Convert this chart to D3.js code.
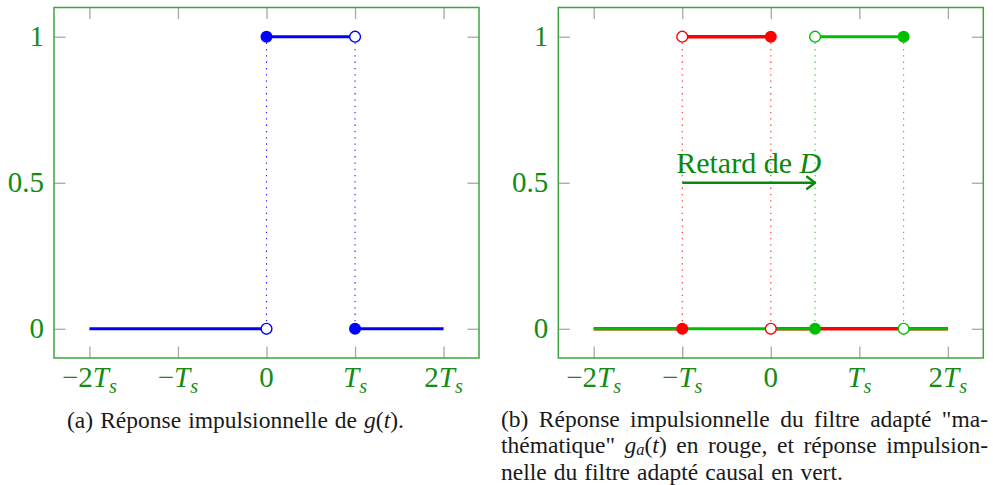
<!DOCTYPE html>
<html><head><meta charset="utf-8">
<script src="https://cdn.jsdelivr.net/npm/d3@7"></script>
<style>body{margin:0;background:#fff}svg{display:block}</style>
</head><body>
<svg id="c" width="993" height="485"></svg>
<script>
// ---------- data ----------
const xTicks = [-2, -1, 0, 1, 2];
const xTickLabels = ["−2T_s", "−T_s", "0", "T_s", "2T_s"];
const yTicks = [0, 0.5, 1];
const yTickLabels = ["0", "0.5", "1"];

// (a) g(t): step segments (units of Ts)
const gStepX0 = [-2, 0, 1];
const gStepX1 = [0, 1, 2];
const gStepY  = [0, 1, 0];
const gFilledX = [0, 1], gFilledY = [1, 0];
const gOpenX   = [0, 1], gOpenY   = [0, 1];
const gDropX   = [0, 1];

// (b) ga(t) mathematical matched filter (red)
const gaStepX0 = [-2, -1, 0];
const gaStepX1 = [-1, 0, 2];
const gaStepY  = [0, 1, 0];
const gaFilledX = [-1, 0], gaFilledY = [0, 1];
const gaOpenX   = [-1, 0], gaOpenY   = [1, 0];
const gaDropX   = [-1, 0];

// (b) causal matched filter (green)
const gcStepX0 = [-2, 0.5, 1.5];
const gcStepX1 = [0.5, 1.5, 2];
const gcStepY  = [0, 1, 0];
const gcFilledX = [0.5, 1.5], gcFilledY = [0, 1];
const gcOpenX   = [0.5, 1.5], gcOpenY   = [1, 0];
const gcDropX   = [0.5, 1.5];

const delayFrom = -1, delayTo = 0.5, delayLevel = 0.5;
const delayText = ["Retard de ", "D"];

const captionA = [["(a)"], ["Réponse"], ["impulsionnelle"], ["de"], [["g","i"],["("],["t","i"],[")."]]];
const captionB = [
  [["(b)"],["Réponse"],["impulsionnelle"],["du"],["filtre"],["adapté"],["\"ma-"]],
  [["thématique\""],[["g","i"],["a","is"],["("],["t","i"],[")"]],["en"],["rouge,"],["et"],["réponse"],["impulsion-"]],
  [["nelle"],["du"],["filtre"],["adapté"],["causal"],["en"],["vert."]]
];

// ---------- style ----------
const FONT = "'Liberation Serif', 'Times New Roman', serif";
const GREEN_TXT = "#148c14";
const FRAME = "#3fa43f";
const TICK = "#a8a8a8";
const BLUE = "#0000ff", RED = "#ff0000", GREEN = "#00bf00";

const svg = d3.select("#c");
svg.append("rect").attr("width", 993).attr("height", 485).attr("fill", "#fff");

function addSegs(t, segs, fs, drop) {
  const d0 = drop || 0.2;
  let shifted = 0;
  segs.forEach(s => {
    const [txt, f] = Array.isArray(s) ? s : [s, ""];
    const sp = t.append("tspan").text(txt);
    if (f && f.includes("i")) sp.attr("font-style", "italic");
    if (f && f.includes("s")) {
      sp.attr("font-size", fs * 0.7).attr("dy", fs * d0 - shifted);
      shifted = fs * d0;
    } else if (shifted) {
      sp.attr("dy", -shifted);
      shifted = 0;
    }
  });
}
function parseTick(lbl) {
  const i = lbl.indexOf("T_s");
  if (i < 0) return [[lbl, ""]];
  const out = [];
  if (i > 0) out.push([lbl.slice(0, i), ""]);
  out.push(["T", "i"], ["s", "is"]);
  return out;
}

function panel(left, right, top, bottom) {
  const x = d3.scaleLinear().domain([-2.4, 2.4]).range([left, right]);
  const y = d3.scaleLinear().domain([-0.1, 1.1]).range([bottom, top]);
  const g = svg.append("g");
  const tk = 11.5;
  const ax = [
    d3.axisBottom(x).tickValues(xTicks).tickSizeInner(-tk).tickSizeOuter(0).tickFormat(""),
    d3.axisTop(x).tickValues(xTicks).tickSizeInner(-tk).tickSizeOuter(0).tickFormat(""),
    d3.axisLeft(y).tickValues(yTicks).tickSizeInner(-tk).tickSizeOuter(0).tickFormat(""),
    d3.axisRight(y).tickValues(yTicks).tickSizeInner(-tk).tickSizeOuter(0).tickFormat("")
  ];
  const tr = [`translate(0,${bottom})`, `translate(0,${top})`, `translate(${left},0)`, `translate(${right},0)`];
  ax.forEach((a, i) => {
    const ag = g.append("g").attr("transform", tr[i]).call(a);
    ag.select(".domain").remove();
    ag.selectAll("line").attr("stroke", TICK).attr("stroke-width", 1.3);
  });
  g.append("rect").attr("x", left).attr("y", top).attr("width", right - left).attr("height", bottom - top)
    .attr("fill", "none").attr("stroke", FRAME).attr("stroke-width", 1.5);
  xTicks.forEach((v, i) => {
    const t = g.append("text").attr("x", x(v)).attr("y", bottom + 29).attr("text-anchor", "middle")
      .attr("font-family", FONT).attr("font-size", 29).attr("fill", GREEN_TXT);
    addSegs(t, parseTick(xTickLabels[i]), 29);
  });
  yTicks.forEach((v, i) => {
    g.append("text").attr("x", left - 10).attr("y", y(v) + 9.5).attr("text-anchor", "end")
      .attr("font-family", FONT).attr("font-size", 29).attr("fill", GREEN_TXT).text(yTickLabels[i]);
  });
  const plot = svg.append("g");
  return { x, y, plot };
}

function drawSteps(p, x0s, x1s, ys, color, w) {
  p.plot.append("g").selectAll("line").data(ys).join("line")
    .attr("x1", (d, i) => p.x(x0s[i])).attr("x2", (d, i) => p.x(x1s[i]))
    .attr("y1", d => p.y(d)).attr("y2", d => p.y(d))
    .attr("stroke", color).attr("stroke-width", w || 3);
}
function drawDrops(p, xs, color, op) {
  p.plot.append("g").selectAll("line").data(xs).join("line")
    .attr("x1", d => p.x(d)).attr("x2", d => p.x(d))
    .attr("y1", p.y(1) + 6).attr("y2", p.y(0) - 6)
    .attr("stroke", color).attr("stroke-opacity", op).attr("stroke-width", 1.1)
    .attr("stroke-dasharray", "1.3,5");
}
function drawMarks(p, fx, fy, ox, oy, color) {
  p.plot.append("g").selectAll("circle").data(fx).join("circle")
    .attr("cx", d => p.x(d)).attr("cy", (d, i) => p.y(fy[i])).attr("r", 6).attr("fill", color);
  p.plot.append("g").selectAll("circle").data(ox).join("circle")
    .attr("cx", d => p.x(d)).attr("cy", (d, i) => p.y(oy[i])).attr("r", 5.4)
    .attr("fill", "#fff").attr("stroke", color).attr("stroke-width", 1.4);
}

// ---------- panel (a) ----------
const pa = panel(54, 479, 7.5, 358);
drawDrops(pa, gDropX, BLUE, 0.9);
drawSteps(pa, gStepX0, gStepX1, gStepY, BLUE);
drawMarks(pa, gFilledX, gFilledY, gOpenX, gOpenY, BLUE);

// ---------- panel (b) ----------
const pb = panel(558.3, 983.3, 7.5, 358);
drawDrops(pb, gaDropX, RED, 0.85);
drawDrops(pb, gcDropX, GREEN, 0.85);
drawSteps(pb, gaStepX0, gaStepX1, gaStepY, RED, 3.6);
drawSteps(pb, gcStepX0, gcStepX1, gcStepY, GREEN, 2.9);
drawMarks(pb, gaFilledX, gaFilledY, gaOpenX, gaOpenY, RED);
drawMarks(pb, gcFilledX, gcFilledY, gcOpenX, gcOpenY, GREEN);

// delay arrow
const ay = pb.y(delayLevel);
pb.plot.append("line").attr("x1", pb.x(delayFrom)).attr("x2", pb.x(delayTo) - 1)
  .attr("y1", ay).attr("y2", ay).attr("stroke", "#0a8a0a").attr("stroke-width", 2.6);
pb.plot.append("path")
  .attr("d", `M${pb.x(delayTo) - 8},${ay - 6} L${pb.x(delayTo)},${ay} L${pb.x(delayTo) - 8},${ay + 6}`)
  .attr("fill", "none").attr("stroke", "#0a8a0a").attr("stroke-width", 2.4)
  .attr("stroke-linecap", "round").attr("stroke-linejoin", "round");
const dt = pb.plot.append("text").attr("x", pb.x((delayFrom + delayTo) / 2)).attr("y", ay - 10)
  .attr("text-anchor", "middle").attr("font-family", FONT).attr("font-size", 30).attr("fill", "#0a8a0a");
dt.append("tspan").text(delayText[0]);
dt.append("tspan").attr("font-style", "italic").text(delayText[1]);

// ---------- captions ----------
const CFS = 23.5;
function line(words, x0, y, x1) {
  const nodes = words.map(w => {
    const t = svg.append("text").attr("y", y).attr("font-family", FONT).attr("font-size", CFS).attr("fill", "#1a1a1a");
    addSegs(t, w, CFS, 0.1);
    return t;
  });
  const ws = nodes.map(n => n.node().getComputedTextLength());
  const sum = d3.sum(ws);
  const gap = x1 ? (x1 - x0 - sum) / (words.length - 1) : CFS * 0.3;
  let cx = x0;
  nodes.forEach((n, i) => { n.attr("x", cx); cx += ws[i] + gap; });
}
line(captionA, 67, 427.5);
line(captionB[0], 501, 427, 988);
line(captionB[1], 501, 453, 988);
line(captionB[2], 501, 480);
</script>
</body></html>
